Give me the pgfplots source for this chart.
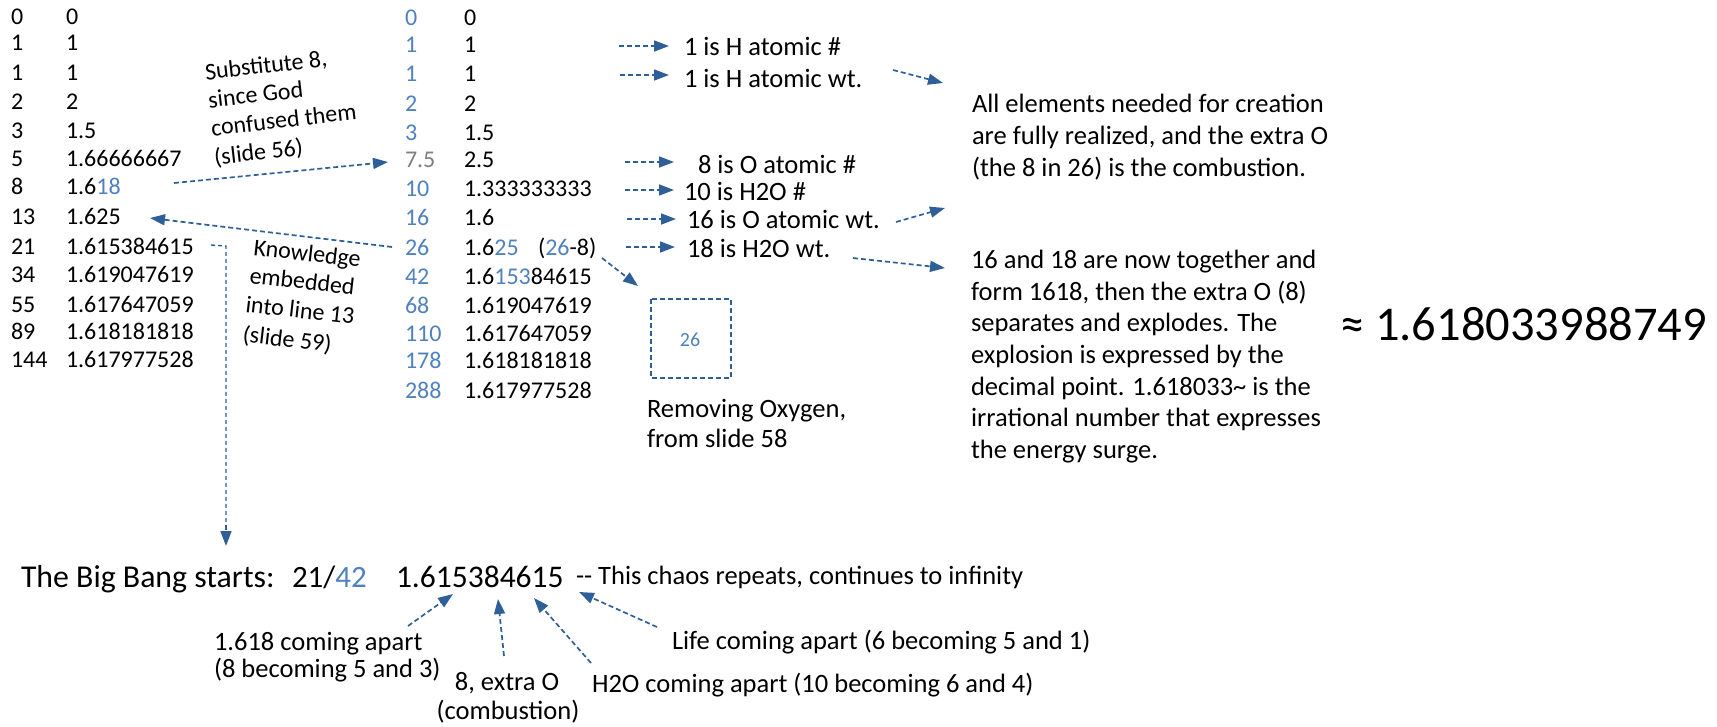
\documentclass[border=0pt]{standalone}
\usepackage{fontspec}
\setmainfont{Carlito}
\usepackage{pgfplots}
\pgfplotsset{compat=1.18}
\usetikzlibrary{arrows.meta}
\definecolor{tblue}{RGB}{79,129,189}
\definecolor{aline}{RGB}{46,95,152}
\definecolor{tgray}{RGB}{127,127,127}
\newcommand\fs[1]{\fontsize{#1}{#1}\selectfont}
\begin{document}
\begin{tikzpicture}[
 t/.style={anchor=base west, inner sep=0pt, outer sep=0pt},
 c/.style={anchor=base, inner sep=0pt, outer sep=0pt},
 arr/.style={draw=aline, line width=1.7pt, dash pattern=on 5pt off 3pt, -{Triangle[length=15pt,width=11pt]}},
]
\begin{axis}[x=1pt,y=1pt,xmin=0,xmax=1717,ymin=0,ymax=726,y dir=reverse,
  axis lines=none,scale only axis,clip=false,ticks=none]
\coordinate (TL) at (axis cs:0,0);
\coordinate (BR) at (axis cs:1717,726);
% ---------- left table ----------
\node[t,font=\fs{24}] at (axis cs:11,24) {0};   \node[t,font=\fs{24}] at (axis cs:66,24) {0};
\node[t,font=\fs{24}] at (axis cs:11,50) {1};   \node[t,font=\fs{24}] at (axis cs:66,50) {1};
\node[t,font=\fs{24}] at (axis cs:11,80) {1};   \node[t,font=\fs{24}] at (axis cs:66,80) {1};
\node[t,font=\fs{24}] at (axis cs:11,109) {2};  \node[t,font=\fs{24}] at (axis cs:66,109) {2};
\node[t,font=\fs{24}] at (axis cs:11,138) {3};  \node[t,font=\fs{24}] at (axis cs:66,138) {1.5};
\node[t,font=\fs{24}] at (axis cs:11,166) {5};  \node[t,font=\fs{24}] at (axis cs:66,166) {1.66666667};
\node[t,font=\fs{24}] at (axis cs:11,194) {8};  \node[t,font=\fs{24}] at (axis cs:66,194) {1.6\textcolor{tblue}{18}};
\node[t,font=\fs{24}] at (axis cs:11,224) {13}; \node[t,font=\fs{24}] at (axis cs:66,224) {1.625};
\node[t,font=\fs{24}] at (axis cs:11,254) {21}; \node[t,font=\fs{24}] at (axis cs:66,254) {1.615384615};
\node[t,font=\fs{24}] at (axis cs:11,282) {34}; \node[t,font=\fs{24}] at (axis cs:66,282) {1.619047619};
\node[t,font=\fs{24}] at (axis cs:11,312) {55}; \node[t,font=\fs{24}] at (axis cs:66,312) {1.617647059};
\node[t,font=\fs{24}] at (axis cs:11,339) {89}; \node[t,font=\fs{24}] at (axis cs:66,339) {1.618181818};
\node[t,font=\fs{24}] at (axis cs:11,367) {144};\node[t,font=\fs{24}] at (axis cs:66,367) {1.617977528};
% ---------- middle table ----------
\node[t,font=\fs{24},text=tblue] at (axis cs:405,25) {0};   \node[t,font=\fs{24}] at (axis cs:464,25) {0};
\node[t,font=\fs{24},text=tblue] at (axis cs:405,52) {1};   \node[t,font=\fs{24}] at (axis cs:464,52) {1};
\node[t,font=\fs{24},text=tblue] at (axis cs:405,81) {1};   \node[t,font=\fs{24}] at (axis cs:464,81) {1};
\node[t,font=\fs{24},text=tblue] at (axis cs:405,111) {2};  \node[t,font=\fs{24}] at (axis cs:464,111) {2};
\node[t,font=\fs{24},text=tblue] at (axis cs:405,140) {3};  \node[t,font=\fs{24}] at (axis cs:464,140) {1.5};
\node[t,font=\fs{24},text=tgray] at (axis cs:405,167) {7.5};\node[t,font=\fs{24}] at (axis cs:464,167) {2.5};
\node[t,font=\fs{24},text=tblue] at (axis cs:405,196) {10};  \node[t,font=\fs{24}] at (axis cs:464,196) {1.333333333};
\node[t,font=\fs{24},text=tblue] at (axis cs:405,225) {16};  \node[t,font=\fs{24}] at (axis cs:464,225) {1.6};
\node[t,font=\fs{24},text=tblue] at (axis cs:405,255) {26};  \node[t,font=\fs{24}] at (axis cs:464,255) {1.6\textcolor{tblue}{25}};
\node[t,font=\fs{24}] at (axis cs:538,255) {(\textcolor{tblue}{26}-8)};
\node[t,font=\fs{24},text=tblue] at (axis cs:405,284) {42};  \node[t,font=\fs{24}] at (axis cs:464,284) {1.6\textcolor{tblue}{153}84615};
\node[t,font=\fs{24},text=tblue] at (axis cs:405,313) {68};  \node[t,font=\fs{24}] at (axis cs:464,313) {1.619047619};
\node[t,font=\fs{24},text=tblue] at (axis cs:405,341) {110}; \node[t,font=\fs{24}] at (axis cs:464,341) {1.617647059};
\node[t,font=\fs{24},text=tblue] at (axis cs:405,368) {178}; \node[t,font=\fs{24}] at (axis cs:464,368) {1.618181818};
\node[t,font=\fs{24},text=tblue] at (axis cs:405,398) {288}; \node[t,font=\fs{24}] at (axis cs:464,398) {1.617977528};
% ---------- rotated notes ----------
\node[t,font=\fs{24},rotate=6.5] at (axis cs:206,80) {Substitute 8,};
\node[t,font=\fs{24},rotate=6.5] at (axis cs:209,108) {since God};
\node[t,font=\fs{24},rotate=6.5] at (axis cs:212,136) {confused them};
\node[t,font=\fs{24},rotate=6.5] at (axis cs:215,165) {(slide 56)};
\node[t,font=\fs{24},rotate=-6.5] at (axis cs:253,255) {Knowledge};
\node[t,font=\fs{24},rotate=-6.5] at (axis cs:249,283) {embedded};
\node[t,font=\fs{24},rotate=-6.5] at (axis cs:245,312) {into line 13};
\node[t,font=\fs{24},rotate=-6.5] at (axis cs:242,342) {(slide 59)};
\draw[arr] (axis cs:174,183) -- (axis cs:388,162);
\draw[arr] (axis cs:392,247) -- (axis cs:150,218);
\draw[draw=aline, line width=1.4pt, dash pattern=on 4pt off 3pt] (axis cs:211,245) -- (axis cs:226,246) -- (axis cs:226,530);
\draw[arr] (axis cs:226,525) -- (axis cs:226,546);
% ---------- middle annotations ----------
\draw[arr] (axis cs:619,46) -- (axis cs:669,46);
\draw[arr] (axis cs:620,75) -- (axis cs:669,75);
\draw[arr] (axis cs:625,162) -- (axis cs:674,162);
\draw[arr] (axis cs:625,190) -- (axis cs:674,190);
\draw[arr] (axis cs:627,219) -- (axis cs:676,219);
\draw[arr] (axis cs:626,247) -- (axis cs:675,247);
\node[t,font=\fs{26.5}] at (axis cs:684,55) {1 is H atomic \#};
\node[t,font=\fs{26.5}] at (axis cs:684,87) {1 is H atomic wt.};
\node[t,font=\fs{26.5}] at (axis cs:698,173) {8 is O atomic \#};
\node[t,font=\fs{26.5}] at (axis cs:684,200) {10 is H2O \#};
\node[t,font=\fs{26.5}] at (axis cs:687,228) {16 is O atomic wt.};
\node[t,font=\fs{26.5}] at (axis cs:687,257) {18 is H2O wt.};
\draw[arr] (axis cs:893,70) -- (axis cs:943,83);
\draw[arr] (axis cs:896,222) -- (axis cs:945,208);
\draw[arr] (axis cs:853,258) -- (axis cs:945,268);
% box
\draw[aline, line width=1.7pt, dash pattern=on 5pt off 3pt] (axis cs:651,299) rectangle (axis cs:731,378);
\node[c,font=\fs{20},text=tblue] at (axis cs:690,346) {26};
\draw[arr] (axis cs:602,258) -- (axis cs:638,286);
\node[t,font=\fs{26.5}] at (axis cs:647,417) {Removing Oxygen,};
\node[t,font=\fs{26.5}] at (axis cs:647,447) {from slide 58};
% ---------- right texts ----------
\node[t,font=\fs{26.5}] at (axis cs:972,112) {All elements needed for creation};
\node[t,font=\fs{26.5}] at (axis cs:972,144) {are fully realized, and the extra O};
\node[t,font=\fs{26.5}] at (axis cs:972,176) {(the 8 in 26) is the combustion.};
\node[t,font=\fs{26.5}] at (axis cs:971,268) {16 and 18 are now together and};
\node[t,font=\fs{26.5}] at (axis cs:971,300) {form 1618, then the extra O (8)};
\node[t,font=\fs{26.5}] at (axis cs:971,331.5) {separates and explodes. The};
\node[t,font=\fs{26.5}] at (axis cs:971,363) {explosion is expressed by the};
\node[t,font=\fs{26.5}] at (axis cs:971,395) {decimal point. 1.618033\textasciitilde\ is the};
\node[t,font=\fs{26.5}] at (axis cs:971,426.5) {irrational number that expresses};
\node[t,font=\fs{26.5}] at (axis cs:971,458) {the energy surge.};
\node[t,font=\fs{48.5}] at (axis cs:1340,340) {≈ 1.618033988749};
% ---------- bottom ----------
\node[t,font=\fs{31.8}] at (axis cs:21,587) {The Big Bang starts:};
\node[t,font=\fs{31}] at (axis cs:292,587) {21/\textcolor{tblue}{42}};
\node[t,font=\fs{31.5}] at (axis cs:396,587) {1.615384615};
\node[t,font=\fs{26.5}] at (axis cs:576,584) {-{}- This chaos repeats, continues to infinity};
\node[t,font=\fs{26.5}] at (axis cs:214,650) {1.618 coming apart};
\node[t,font=\fs{26.5}] at (axis cs:214,677) {(8 becoming 5 and 3)};
\node[c,font=\fs{26.5}] at (axis cs:507,690) {8, extra O};
\node[c,font=\fs{26.5}] at (axis cs:508,719) {(combustion)};
\node[t,font=\fs{26.5}] at (axis cs:592,692) {H2O coming apart (10 becoming 6 and 4)};
\node[t,font=\fs{26.5}] at (axis cs:672,649) {Life coming apart (6 becoming 5 and 1)};
\draw[arr] (axis cs:408,626) -- (axis cs:453,594);
\draw[arr] (axis cs:504,656) -- (axis cs:498,599);
\draw[arr] (axis cs:591,663) -- (axis cs:534,598);
\draw[arr] (axis cs:657,627) -- (axis cs:579,592);
\end{axis}
\pgfresetboundingbox
\path[use as bounding box] (TL) rectangle (BR);
\end{tikzpicture}
\end{document}
